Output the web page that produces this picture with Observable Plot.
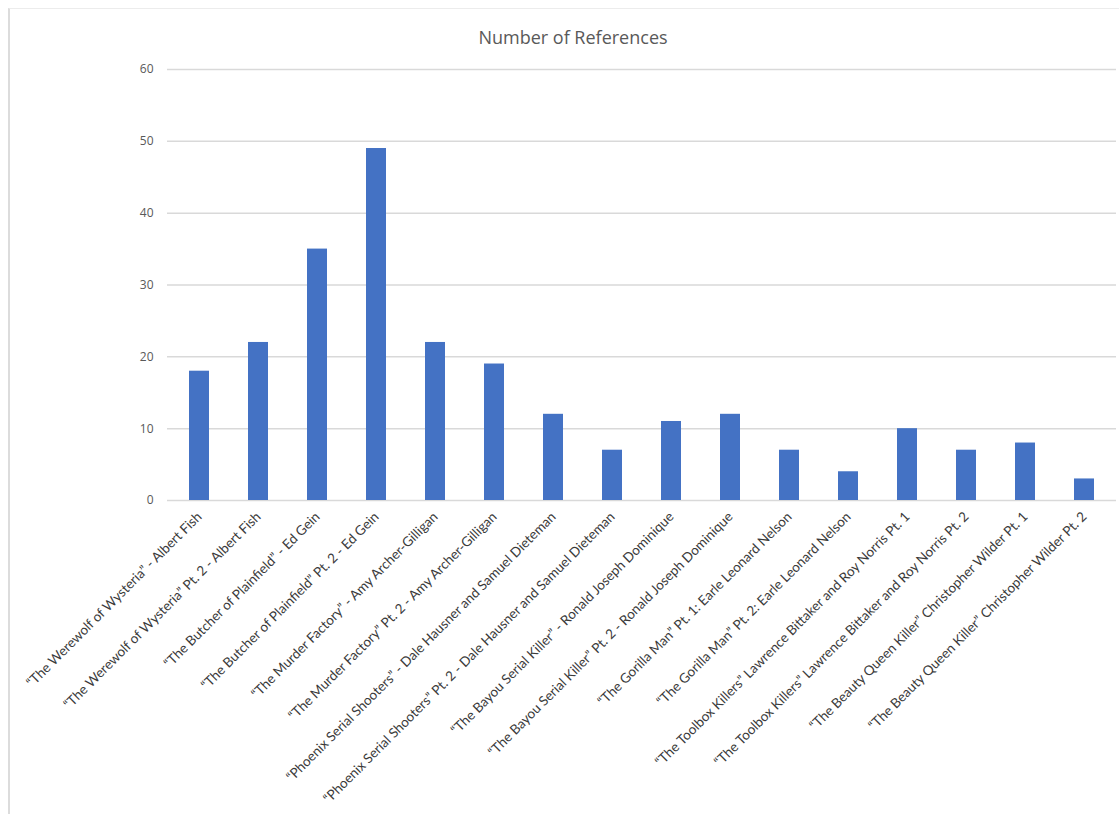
<!DOCTYPE html>
<html>
<head>
<meta charset="utf-8">
<script src="https://cdn.jsdelivr.net/npm/d3@7"></script>
<script src="https://cdn.jsdelivr.net/npm/@observablehq/plot@0.6"></script>
<style>
  html, body { margin: 0; padding: 0; background: #fff; }
  #frame {
    position: absolute; left: 8px; top: 8px; width: 1111px; height: 806px;
    border-left: 2px solid #dcdcdc; border-top: 1px solid #ececec; box-sizing: border-box;
  }
  #title {
    margin-top: 18px; height: 20px; line-height: 20px;
    font-family: "Open Sans", sans-serif; font-size: 18px; color: #595959;
    text-align: center; padding-left: 17px;
  }
  #chart svg { display: block; }
</style>
</head>
<body>
<div id="frame">
  <div id="title">Number of References</div>
  <div id="chart"></div>
</div>
<script>
// Episodes and how many references each one cites
const episodes = [
  "“The Werewolf of Wysteria” - Albert Fish",
  "“The Werewolf of Wysteria” Pt. 2 - Albert Fish",
  "“The Butcher of Plainfield” - Ed Gein",
  "“The Butcher of Plainfield” Pt. 2 - Ed Gein",
  "“The Murder Factory” - Amy Archer-Gilligan",
  "“The Murder Factory” Pt. 2 - Amy Archer-Gilligan",
  "“Phoenix Serial Shooters” - Dale Hausner and Samuel Dieteman",
  "“Phoenix Serial Shooters” Pt. 2 - Dale Hausner and Samuel Dieteman",
  "“The Bayou Serial Killer” - Ronald Joseph Dominique",
  "“The Bayou Serial Killer” Pt. 2 - Ronald Joseph Dominique",
  "“The Gorilla Man” Pt. 1: Earle Leonard Nelson",
  "“The Gorilla Man” Pt. 2: Earle Leonard Nelson",
  "“The Toolbox Killers” Lawrence Bittaker and Roy Norris Pt. 1",
  "“The Toolbox Killers” Lawrence Bittaker and Roy Norris Pt. 2",
  "“The Beauty Queen Killer” Christopher Wilder Pt. 1",
  "“The Beauty Queen Killer” Christopher Wilder Pt. 2"
];
const references = [18, 22, 35, 49, 22, 19, 12, 7, 11, 12, 7, 4, 10, 7, 8, 3];
const yTicks = [0, 10, 20, 30, 40, 50, 60];

const data = episodes.map((name, i) => ({name, count: references[i]}));

const chart = Plot.plot({
  width: 1109,
  height: 767,
  marginTop: 22,
  marginBottom: 314,
  marginLeft: 157,
  marginRight: 3,
  style: {fontFamily: "Lato, sans-serif", color: "#595959", background: "#fff"},
  x: {domain: episodes, paddingInner: 0.66, paddingOuter: 0.33, label: null},
  y: {domain: [0, 60], label: null},
  marks: [
    Plot.gridY(yTicks, {stroke: "#d9d9d9", strokeOpacity: 1, strokeWidth: 1.5}),
    Plot.barY(data, {x: "name", y: "count", fill: "#4472c4"}),
    Plot.axisY(yTicks, {tickSize: 0, tickPadding: 14, fontSize: 12, fontFamily: "Open Sans, sans-serif", fill: "#595959"}),
    Plot.axisX({tickSize: 0, tickPadding: 14, tickRotate: -45, fontSize: 13.5, fill: "#3a3a3a"})
  ]
});
document.getElementById("chart").appendChild(chart);
</script>
</body>
</html>
